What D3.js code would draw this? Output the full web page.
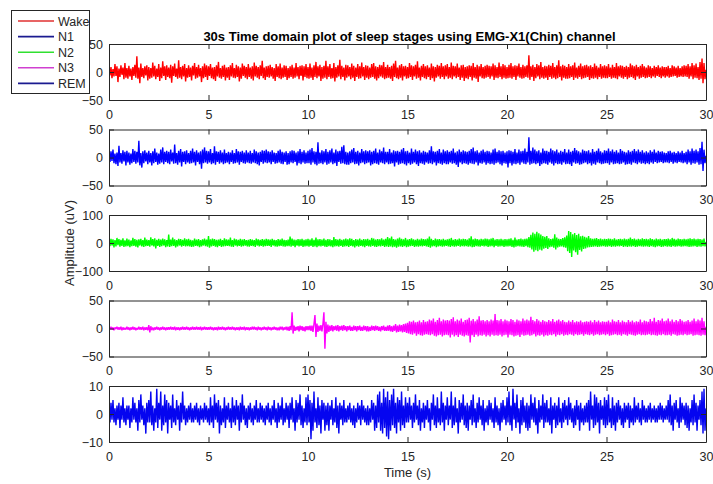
<!DOCTYPE html>
<html><head><meta charset="utf-8">
<script src="https://cdn.jsdelivr.net/npm/d3@7/dist/d3.min.js"></script>
<style>body{margin:0;background:#fff}svg{display:block}text{font-family:"Liberation Sans",Arial,Helvetica,sans-serif}</style>
</head><body><svg id="c" width="713" height="484"></svg>
<script>
const stageNames = ["Wake","N1","N2","N3","REM"];
const stageColors = ["#ff0000","#0000ff","#00ff00","#ff00ff","#0505f0"];
const legendColors = ["#e03030","#1a1a90","#30e030","#d040d0","#1a1a90"];
const yLimits = [[-50,50],[-50,50],[-100,100],[-50,50],[-10,10]];
const xTicks = [0,5,10,15,20,25,30];
const sampleStep = 0.05;
const titleText = "30s Time domain plot of sleep stages using EMG-X1(Chin) channel";

const wake = [
2,-6,9,-11,5,-8,14,-7,10,-18,6,-9,12,-5,8,-13,16,-10,7,-12,
11,-8,6,-14,9,-7,13,-10,28,-12,8,-20,15,-9,7,-11,10,-6,12,-15,
9,-12,7,-10,17,-8,11,-13,6,-9,14,-16,8,-11,19,-7,10,-14,12,-9,
8,-11,13,-19,10,-7,15,-9,6,-12,21,-10,9,-13,11,-8,14,-17,7,-10,
12,-9,8,-15,11,-6,16,-12,9,-10,13,-8,7,-18,10,-11,15,-9,12,-14,
10,-7,14,-11,8,-13,9,-16,12,-8,18,-10,7,-12,11,-9,13,-15,8,-10,
9,-14,12,-8,16,-10,7,-11,13,-9,10,-17,8,-12,15,-7,11,-10,9,-13,
14,-9,8,-12,10,-15,17,-8,11,-10,9,-13,12,-7,20,-11,8,-14,10,-9,
11,-10,13,-8,9,-12,7,-16,14,-9,10,-11,15,-13,8,-10,12,-9,11,-14,
7,-11,10,-9,13,-12,8,-10,16,-8,9,-13,11,-7,12,-15,10,-9,14,-11,
9,-12,15,-10,8,-14,12,-9,18,-11,10,-8,13,-16,9,-12,11,-10,20,-13,
10,-9,14,-12,7,-11,16,-17,9,-10,12,-8,22,-13,11,-9,8,-15,13,-10,
12,-8,9,-13,15,-10,11,-16,8,-9,14,-12,10,-11,17,-8,9,-14,12,-10,
11,-13,8,-10,14,-9,16,-12,10,-15,9,-11,13,-8,12,-10,18,-13,9,-11,
13,-10,9,-12,11,-16,15,-9,20,-11,8,-13,12,-10,14,-15,10,-8,11,-12,
9,-11,16,-9,12,-14,10,-8,13,-12,19,-10,8,-15,11,-9,14,-11,10,-13,
12,-9,8,-14,15,-11,10,-17,9,-10,13,-8,11,-12,16,-9,10,-13,12,-8,
14,-12,9,-10,17,-13,11,-8,10,-11,15,-9,8,-14,12,-10,13,-16,9,-11,
10,-13,12,-9,11,-15,16,-10,9,-12,13,-18,10,-8,14,-11,9,-12,11,-10,
13,-9,11,-12,10,-8,15,-14,12,-10,9,-11,17,-9,10,-13,14,-10,12,-12,
9,-11,13,-10,16,-12,10,-9,12,-14,11,-8,15,-10,9,-12,13,-11,10,-9,
12,-10,30,-14,10,-9,13,-16,9,-11,14,-8,12,-13,18,-10,9,-12,11,-10,
10,-14,13,-9,11,-12,16,-10,9,-13,12,-11,21,-9,10,-15,13,-10,11,-12,
9,-12,14,-11,10,-9,12,-14,17,-10,8,-12,11,-9,15,-13,10,-11,12,-10,
13,-9,10,-14,12,-11,9,-12,15,-10,11,-13,8,-9,14,-12,10,-10,12,-11,
10,-11,14,-9,8,-12,13,-10,9,-11,16,-13,10,-8,12,-10,11,-12,9,-9,
11,-13,9,-10,15,-9,12,-11,10,-14,13,-8,9,-12,11,-10,14,-9,10,-11,
8,-10,12,-9,10,-11,7,-8,11,-10,9,-7,12,-9,8,-11,10,-8,9,-10,
9,-8,11,-10,7,-9,12,-8,10,-7,8,-10,11,-9,7,-8,10,-9,12,-8,
11,-9,14,-12,10,-8,16,-13,12,-10,15,-11,9,-14,18,-12,24,-20,16,-13, 4];

const n1 = [
3,-8,11,-6,14,-10,7,-12,9,-15,21,-9,8,-11,13,-7,10,-14,12,-9,
9,-13,7,-10,15,-8,12,-11,10,-9,30,-14,8,-18,11,-10,13,-7,9,-12,
12,-9,8,-14,11,-10,16,-8,9,-13,7,-11,14,-9,18,-12,10,-8,12,-10,
10,-12,14,-7,9,-11,23,-10,8,-13,12,-9,15,-16,10,-8,11,-12,13,-9,
8,-11,12,-10,16,-9,10,-14,13,-8,9,-12,11,-20,14,-10,18,-9,12,-11,
11,-9,15,-12,8,-10,20,-13,11,-8,10,-11,13,-9,9,-12,14,-10,8,-9,
10,-12,9,-8,13,-11,8,-10,15,-9,11,-13,10,-8,12,-10,9,-11,13,-9,
9,-10,12,-11,8,-9,14,-10,11,-12,9,-14,10,-8,13,-11,12,-9,14,-10,
11,-9,10,-12,13,-8,9,-11,8,-10,12,-9,14,-11,10,-12,9,-8,11,-13,
8,-12,11,-9,13,-10,12,-8,9,-14,11,-10,15,-12,10,-9,13,-11,9,-10,
12,-10,14,-13,17,-9,11,-12,10,-14,27,-11,9,-10,13,-12,11,-9,15,-13,
10,-11,13,-9,16,-12,9,-10,14,-15,11,-8,12,-11,19,-10,22,-12,10,-13,
9,-13,11,-10,14,-9,17,-12,10,-11,12,-14,9,-10,15,-9,11,-12,13,-10,
11,-9,13,-14,10,-12,12,-10,16,-11,9,-13,14,-9,11,-10,18,-12,10,-9,
10,-12,15,-11,9,-10,13,-16,11,-9,12,-13,10,-11,14,-10,17,-12,11,-14,
12,-10,9,-13,16,-11,10,-9,14,-12,11,-15,13,-10,9,-11,12,-13,10,-9,
9,-11,13,-10,20,-12,11,-9,10,-14,12,-10,15,-11,9,-13,14,-10,11,-12,
13,-12,10,-9,12,-11,16,-10,9,-13,11,-17,14,-9,10,-12,13,-10,11,-11,
10,-13,12,-10,15,-11,18,-12,11,-9,13,-14,9,-10,12,-11,14,-9,10,-13,
12,-10,11,-12,9,-11,14,-13,16,-10,10,-9,13,-12,11,-14,12,-10,9,-11,
11,-18,13,-10,12,-14,10,-11,15,-12,9,-10,14,-13,11,-9,12,-11,16,-12,
10,-9,36,-13,12,-11,18,-10,14,-12,11,-10,13,-15,9,-12,16,-10,12,-11,
12,-13,10,-9,16,-11,13,-14,11,-10,14,-12,9,-11,12,-13,10,-9,15,-12,
9,-11,14,-12,10,-15,12,-9,17,-11,13,-10,11,-13,9,-12,14,-10,12,-9,
11,-12,13,-10,9,-14,15,-11,10,-13,12,-9,16,-10,11,-12,9,-11,13,-10,
12,-10,16,-13,11,-9,14,-12,10,-11,13,-10,9,-12,15,-11,12,-9,10,-13,
9,-12,13,-11,10,-13,12,-9,15,-10,11,-12,14,-9,10,-11,13,-10,9,-12,
11,-10,9,-12,13,-9,10,-11,14,-8,9,-10,12,-9,10,-8,11,-10,9,-9,
8,-9,11,-10,12,-8,9,-11,10,-9,8,-10,11,-8,9,-9,12,-10,8,-9,
10,-12,14,-9,11,-13,16,-10,12,-11,14,-9,11,-13,17,-12,28,-24,14,-10, 3];

const n2 = [
4,-11,15,-9,13,-16,10,-12,18,-8,14,-13,11,-10,17,-14,9,-12,16,-11,
12,-15,9,-11,18,-10,14,-13,11,-16,13,-9,15,-12,10,-14,19,-11,12,-10,
10,-13,20,-9,14,-12,17,-19,11,-10,15,-14,12,-11,16,-9,13,-15,10,-12,
30,-14,12,-11,19,-10,13,-16,10,-12,15,-9,14,-13,11,-10,17,-12,13,-11,
15,-12,11,-14,9,-13,16,-10,12,-11,14,-15,10,-12,13,-9,16,-11,12,-13,
25,-17,13,-12,16,-10,14,-13,11,-15,12,-10,15,-14,10,-12,17,-11,13,-10,
12,-11,19,-13,10,-14,16,-9,13,-12,11,-10,15,-13,12,-11,14,-9,10,-12,
11,-13,14,-10,12,-11,10,-14,16,-9,13,-12,11,-10,14,-13,12,-11,15,-10,
13,-10,12,-14,15,-9,11,-12,10,-13,14,-11,12,-10,16,-12,11,-13,10,-11,
12,-11,23,-13,16,-10,12,-15,11,-9,14,-12,13,-10,15,-14,11,-12,13,-11,
15,-13,12,-10,17,-14,11,-12,19,-15,13,-11,14,-12,12,-10,16,-13,11,-14,
14,-11,13,-12,10,-15,21,-12,14,-11,12,-13,15,-10,11,-14,13,-12,16,-11,
13,-14,17,-10,15,-12,10,-16,14,-11,12,-13,16,-10,11,-12,14,-15,13,-10,
15,-12,11,-13,18,-10,16,-13,12,-14,14,-11,13,-12,17,-10,12,-14,15,-12,
21,-14,17,-12,23,-15,14,-13,12,-17,16,-13,19,-12,15,-14,13,-11,18,-15,
12,-13,14,-11,17,-10,13,-14,11,-12,15,-13,12,-11,16,-12,14,-10,13,-12,
16,-14,23,-17,15,-12,10,-11,16,-15,13,-12,14,-11,12,-13,15,-12,11,-10,
13,-12,15,-14,18,-11,11,-13,14,-12,12,-10,16,-13,13,-11,15,-12,14,-11,
12,-13,17,-12,24,-15,13,-14,16,-11,14,-12,12,-13,15,-10,13,-12,16,-11,
15,-14,13,-12,16,-11,18,-15,12,-10,14,-13,13,-12,15,-11,12,-14,14,-12,
13,-12,15,-11,17,-14,11,-16,19,-13,12,-11,14,-12,16,-13,13,-14,15,-11,
16,-15,21,-17,29,-23,37,-31,33,-26,40,-29,35,-24,30,-27,25,-20,22,-18,
25,-21,17,-15,14,-13,16,-17,31,-23,19,-16,15,-13,14,-12,18,-15,20,-17,
27,-29,43,-36,39,-50,31,-27,36,-33,28,-42,33,-25,24,-30,26,-21,22,-19,
19,-16,25,-15,17,-14,15,-13,16,-12,18,-14,14,-13,16,-12,13,-11,15,-13,
14,-13,16,-11,15,-14,13,-12,17,-13,12,-11,14,-12,15,-10,13,-14,16,-12,
13,-14,15,-12,19,-13,14,-11,16,-14,12,-13,15,-11,13,-12,17,-13,14,-12,
15,-12,13,-14,17,-11,14,-13,12,-15,16,-12,13,-11,15,-14,12,-13,14,-11,
14,-13,16,-12,13,-14,18,-11,15,-13,12,-12,16,-11,14,-13,13,-12,15,-11,
13,-12,15,-14,17,-13,14,-12,16,-11,13,-14,15,-12,14,-13,12,-11,16,-12, 4];

const n3 = [
1,-2,3,-2,2,-3,2,-1,3,-2,2,-2,3,-3,2,-2,1,-2,3,-2,
2,-3,2,-2,3,-2,2,-3,1,-2,3,-2,2,-2,3,-3,2,-2,2,-3,
6,-7,4,-3,2,-3,2,-2,3,-2,2,-3,2,-2,3,-2,2,-3,2,-2,
2,-2,3,-2,2,-2,3,-3,2,-2,2,-3,2,-2,3,-2,2,-2,3,-2,
2,-3,2,-2,3,-2,2,-2,3,-2,2,-2,3,-3,2,-2,3,-2,2,-2,
2,-2,3,-2,2,-3,2,-2,2,-3,3,-2,2,-2,3,-2,2,-3,2,-2,
3,-2,2,-2,3,-2,2,-3,2,-2,2,-3,3,-2,2,-2,3,-3,2,-2,
2,-3,2,-2,3,-2,3,-2,2,-3,3,-2,2,-3,2,-2,3,-2,2,-3,
3,-2,2,-3,2,-2,3,-2,2,-3,2,-3,3,-2,3,-3,2,-2,3,-3,
3,-4,4,-3,29,-9,5,-4,3,-3,4,-5,5,-3,4,-4,3,-5,4,-3,
4,-3,5,-4,5,-6,8,24,-15,9,-6,5,-4,6,-5,8,29,-36,12,-9,
7,-6,5,-4,6,-5,4,-3,5,-4,6,-5,4,-3,5,-4,6,-3,4,-5,
4,-3,5,-4,3,-4,5,-3,4,-5,4,-3,5,-4,3,-4,5,-3,4,-5,
4,-5,3,-4,5,-3,4,-4,5,-3,4,-4,3,-5,4,-3,5,-4,3,-4,
5,-4,6,-5,4,-6,5,-4,8,-7,5,-6,7,-5,6,-7,8,-6,9,-8,
10,-9,13,-10,12,-11,14,-9,11,-13,12,-10,14,-12,11,-13,15,-11,12,-10,
13,-11,16,-12,14,-10,18,-13,12,-14,15,-12,19,-11,13,-14,16,-12,14,-11,
15,-12,14,-16,17,-11,20,-14,13,-12,16,-15,14,-11,18,-13,12,-14,15,-12,
16,-13,19,-25,14,-12,17,-15,13,-11,16,-14,22,-12,14,-13,15,-11,13,-14,
15,-12,13,-14,16,-11,14,-13,26,-12,15,-13,14,-11,17,-14,13,-12,16,-11,
14,-16,13,-11,17,-12,15,-14,12,-13,16,-12,14,-15,13,-11,18,-13,14,-12,
16,-11,14,-13,21,-12,15,-10,13,-14,17,-12,14,-13,12,-11,15,-14,13,-12,
12,-13,15,-11,13,-12,17,-10,12,-14,14,-11,16,-12,13,-10,15,-13,12,-11,
11,-12,14,-10,12,-11,15,-13,11,-10,13,-12,12,-11,14,-10,11,-13,12,-10,
13,-11,12,-12,14,-10,11,-13,15,-11,12,-10,14,-12,11,-11,13,-10,12,-12,
12,-10,14,-13,11,-12,16,-11,13,-10,12,-12,15,-11,11,-13,14,-10,12,-11,
11,-13,15,-10,12,-11,14,-12,11,-13,13,-11,12,-10,16,-12,11,-11,14,-12,
13,-11,12,-10,17,-12,13,-11,19,-12,12,-13,15,-11,14,-12,18,-10,13,-12,
14,-12,18,-11,13,-13,16,-10,12,-11,15,-13,13,-12,17,-11,14,-12,12,-10,
13,-12,15,-11,12,-10,14,-13,18,-12,13,-11,16,-12,14,-13,19,-11,13,-12, 3];

const rem = [
2,-3,4,-2,5,-3,2,-4,3,-2,4,-5,3,-2,6,-3,2,-4,3,-2,
3,-5,2,-3,6,-2,4,-3,2,-6,5,-3,7,-2,3,-4,2,-7,4,-3,
5,-3,8,-4,3,-6,2,-3,9,-5,4,-2,8,-6,3,-4,7,-3,5,-7,
4,-2,3,-5,7,-3,2,-4,5,-2,3,-6,4,-3,8,-2,3,-4,2,-3,
3,-2,4,-3,2,-3,3,-2,4,-3,2,-4,3,-2,2,-3,4,-2,3,-3,
2,-4,6,-3,3,-5,7,-2,4,-3,5,-7,3,-4,2,-3,6,-5,3,-2,
4,-3,2,-5,6,-3,3,-4,5,-2,3,-6,4,-3,7,-2,3,-4,2,-5,
3,-2,4,-3,2,-4,3,-2,5,-3,2,-3,4,-2,3,-3,2,-4,3,-2,
4,-3,2,-4,3,-2,5,-3,2,-5,4,-3,3,-2,6,-4,2,-3,4,-2,
3,-5,4,-2,6,-3,2,-6,5,-3,4,-2,7,-4,3,-5,2,-3,6,-4,
7,-3,5,-9,4,-6,8,-3,2,-5,6,-4,3,-7,5,-2,4,-6,3,-4,
4,-6,3,-2,5,-4,2,-3,6,-5,3,-7,4,-2,3,-4,5,-3,2,-3,
3,-2,4,-3,2,-4,3,-5,2,-3,4,-2,3,-4,5,-2,3,-3,2,-4,
3,-4,2,-3,5,-2,4,-6,3,-5,7,-3,8,-6,4,-7,9,-5,6,-8,
8,-9,5,-6,7,-4,9,-5,4,-7,6,-3,5,-6,8,-4,3,-5,6,-3,
4,-3,6,-2,3,-5,4,-3,7,-2,3,-4,5,-6,2,-3,4,-5,3,-2,
5,-3,2,-6,4,-2,7,-4,3,-5,6,-3,2,-4,8,-3,4,-6,3,-2,
6,-4,3,-2,8,-5,3,-4,6,-3,2,-7,5,-3,4,-2,7,-4,3,-5,
4,-6,3,-2,5,-4,7,-3,2,-5,4,-3,6,-2,3,-4,5,-6,2,-3,
3,-4,5,-2,4,-3,2,-5,6,-3,3,-4,2,-6,4,-3,5,-2,3,-4,
6,-3,8,-4,3,-6,9,-2,4,-5,7,-3,2,-7,5,-4,6,-3,3,-5,
4,-6,3,-5,7,-2,4,-3,6,-4,2,-7,5,-3,3,-2,7,-5,4,-3,
5,-3,2,-4,6,-7,3,-2,4,-5,3,-4,6,-3,2,-5,4,-3,5,-2,
3,-4,6,-2,4,-3,2,-5,3,-4,5,-2,3,-6,4,-3,2,-4,3,-3,
4,-3,5,-6,8,-2,3,-5,7,-4,6,-3,4,-7,5,-2,3,-4,6,-5,
5,-4,7,-3,2,-5,6,-4,3,-6,4,-3,5,-2,3,-4,2,-5,4,-3,
3,-2,4,-5,3,-3,2,-4,6,-3,3,-2,4,-3,2,-4,5,-2,3,-3,
2,-3,3,-2,4,-3,2,-2,3,-3,2,-3,3,-2,4,-2,3,-3,2,-2,
3,-2,5,-3,7,-4,3,-6,4,-2,5,-3,2,-5,6,-3,4,-2,3,-4,
4,-5,3,-6,2,-3,5,-4,7,-3,4,-6,3,-2,5,-4,8,-7,9,-6, 2];

const seriesData = [wake, n1, n2, n3, rem];

const svg = d3.select("#c");
const axisColor = "#262626";
const left = 109, right = 706, panelH = 56, firstTop = 44, panelGap = 85.5;
const x = d3.scaleLinear().domain([0,30]).range([left,right]);

svg.append("defs").selectAll("clipPath").data(seriesData).join("clipPath")
  .attr("id",(d,i)=>"clip"+i)
  .append("rect").attr("x",left).attr("width",right-left)
  .attr("y",(d,i)=>firstTop+i*panelGap).attr("height",panelH);

seriesData.forEach((vals,i)=>{
  const top = firstTop + i*panelGap;
  const lim = yLimits[i];
  const y = d3.scaleLinear().domain(lim).range([top+panelH, top]);
  const g = svg.append("g");
  const line = d3.line().x((d,k)=>x(k*sampleStep)).y(d=>y(d));
  g.append("path").datum(vals).attr("d",line)
    .attr("fill","none").attr("stroke",stageColors[i]).attr("stroke-width",1.4)
    .attr("stroke-linejoin","bevel")
    .attr("clip-path",`url(#clip${i})`);
  const styleAxis = sel=>{
    sel.selectAll("path.domain").attr("stroke",axisColor).attr("stroke-width",1);
    sel.selectAll(".tick line").attr("stroke",axisColor);
    sel.selectAll("text").attr("fill",axisColor).style("font-size","12.5px")
      .style("font-family","Liberation Sans, Arial, sans-serif");
  };
  g.append("g").attr("transform",`translate(0,${top+panelH})`)
    .call(d3.axisBottom(x).tickValues(xTicks).tickSizeInner(-5).tickSizeOuter(0).tickPadding(10).tickFormat(d3.format("d")))
    .call(styleAxis);
  g.append("g").attr("transform",`translate(0,${top})`)
    .call(d3.axisTop(x).tickValues(xTicks).tickSizeInner(-5).tickSizeOuter(0).tickFormat(""))
    .call(styleAxis);
  g.append("g").attr("transform",`translate(${left},0)`)
    .call(d3.axisLeft(y).tickValues([lim[0],0,lim[1]]).tickSizeInner(-5).tickSizeOuter(0).tickPadding(6).tickFormat(d3.format("d")))
    .call(styleAxis);
  g.append("g").attr("transform",`translate(${right},0)`)
    .call(d3.axisRight(y).tickValues([lim[0],0,lim[1]]).tickSizeInner(-5).tickSizeOuter(0).tickFormat(""))
    .call(styleAxis);
  g.selectAll(".domain").raise();
});

svg.append("text").attr("x",(left+right)/2+2).attr("y",41).attr("text-anchor","middle")
  .attr("font-weight","bold").attr("font-size","13px").attr("fill","#000").text(titleText);

svg.append("text").attr("transform",`translate(74,${(firstTop+4*panelGap+panelH+firstTop)/2}) rotate(-90)`)
  .attr("text-anchor","middle").attr("font-size","13px").attr("fill",axisColor).text("Amplitude (uV)");

svg.append("text").attr("x",(left+right)/2).attr("y",477).attr("text-anchor","middle")
  .attr("font-size","13px").attr("fill",axisColor).text("Time (s)");

// legend
const lg = svg.append("g");
lg.append("rect").attr("x",11.5).attr("y",10.5).attr("width",78).attr("height",83)
  .attr("fill","#fff").attr("stroke",axisColor).attr("stroke-width",1);
stageNames.forEach((nm,i)=>{
  const yy = 21 + i*15.6;
  lg.append("line").attr("x1",18).attr("x2",54).attr("y1",yy).attr("y2",yy)
    .attr("stroke",legendColors[i]).attr("stroke-width",1.6);
  lg.append("text").attr("x",58).attr("y",yy+4.5).attr("font-size","12.5px")
    .attr("fill",axisColor).text(nm);
});
</script></body></html>
